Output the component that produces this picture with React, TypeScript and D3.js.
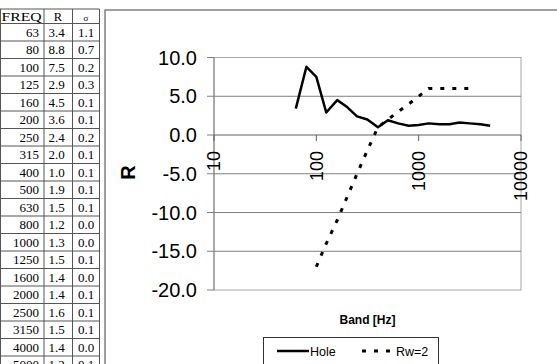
import React from 'react';
import * as d3 from 'd3';

// table / measured data
const freqs = [63, 80, 100, 125, 160, 200, 250, 315, 400, 500, 630, 800, 1000, 1250, 1600, 2000, 2500, 3150, 4000, 5000];
const rValues = [3.4, 8.8, 7.5, 2.9, 4.5, 3.6, 2.4, 2.0, 1.0, 1.9, 1.5, 1.2, 1.3, 1.5, 1.4, 1.4, 1.6, 1.5, 1.4, 1.2];
const sigmaValues = [1.1, 0.7, 0.2, 0.3, 0.1, 0.1, 0.2, 0.1, 0.1, 0.1, 0.1, 0.0, 0.0, 0.1, 0.0, 0.1, 0.1, 0.1, 0.0, 0.1];

// reference curve shifted (Rw=2)
const refFreqs = [100, 125, 160, 200, 250, 315, 400, 500, 630, 800, 1000, 1250, 1600, 2000, 2500, 3150];
const refValues = [-17, -14, -11, -8, -5, -2, 1, 2, 3, 4, 5, 6, 6, 6, 6, 6];

const yTicks = [10, 5, 0, -5, -10, -15, -20];
const xTicks = [10, 100, 1000, 10000];
const gridValues = [5, -5, -10, -15];

const App = () => {
  const x = d3.scaleLog().domain([10, 10000]).range([214, 521]);
  const y = d3.scaleLinear().domain([-20, 10]).range([290, 57.5]);

  const holeLine = d3
    .line<number>()
    .x((_, i) => x(freqs[i]))
    .y((d) => y(d));
  const refLine = d3
    .line<number>()
    .x((_, i) => x(refFreqs[i]))
    .y((d) => y(d));

  // table layout
  const rowTop = 23.5;
  const rowH = 17.5;
  const colX = [0.5, 44, 72.5, 99.5];
  const nRows = freqs.length;
  const tableBottom = rowTop + nRows * rowH;
  const serif = "'Liberation Serif', 'Times New Roman', serif";
  const sans = "'Liberation Sans', Arial, sans-serif";

  return (
    <svg
      width={557}
      height={364}
      style={{ position: 'absolute', left: 0, top: 0, background: '#fff' }}
    >
      {/* table */}
      <g fontFamily={serif} fontSize={13} fill="#000">
        {[9, ...freqs.map((_, i) => rowTop + i * rowH), tableBottom].map((yy, i) => (
          <line key={'h' + i} x1={0} x2={colX[3]} y1={yy} y2={yy} stroke="#555" strokeWidth={1} />
        ))}
        {colX.map((xx, i) => (
          <line key={'v' + i} x1={xx} x2={xx} y1={9} y2={tableBottom} stroke="#555" strokeWidth={1} />
        ))}
        <text x={1.5} y={21} fontSize={12.5} textLength={40} lengthAdjust="spacingAndGlyphs">FREQ</text>
        <text x={58} y={21} fontSize={12.5} textAnchor="middle">R</text>
        <text x={86} y={21} fontSize={9} textAnchor="middle">σ</text>
        {freqs.map((f, i) => (
          <g key={'r' + f}>
            <text x={39} y={rowTop + i * rowH + 13} textAnchor="end">{f}</text>
            <text x={56.5} y={rowTop + i * rowH + 13} textAnchor="middle">{rValues[i].toFixed(1)}</text>
            <text x={86} y={rowTop + i * rowH + 13} textAnchor="middle">{sigmaValues[i].toFixed(1)}</text>
          </g>
        ))}
      </g>

      {/* chart area outline */}
      <path d="M105,364 L105,10 L557,10" fill="none" stroke="#808080" strokeWidth={1.5} />

      {/* plot area */}
      <rect x={214} y={y(10)} width={521 - 214} height={y(-20) - y(10)} fill="none" stroke="#a6a6a6" strokeWidth={1} />
      {gridValues.map((v) => (
        <line key={'g' + v} x1={214} x2={521} y1={y(v)} y2={y(v)} stroke="#808080" strokeWidth={1} />
      ))}
      {/* y axis */}
      <line x1={214} x2={214} y1={y(10)} y2={y(-20)} stroke="#808080" strokeWidth={1} />
      {yTicks.map((t) => (
        <g key={'yt' + t}>
          <line x1={207} x2={214} y1={y(t)} y2={y(t)} stroke="#808080" strokeWidth={1} />
          <text x={197} y={y(t)} dy="0.36em" textAnchor="end" fontFamily={sans} fontSize={20} fill="#000">
            {t.toFixed(1)}
          </text>
        </g>
      ))}
      {/* x axis at 0 */}
      <line x1={214} x2={521} y1={y(0)} y2={y(0)} stroke="#606060" strokeWidth={1} />
      {xTicks.map((t) => (
        <g key={'xt' + t}>
          <line x1={x(t)} x2={x(t)} y1={y(0)} y2={y(0) + 6} stroke="#606060" strokeWidth={1} />
          <text
            transform={`translate(${x(t)},${y(0) + 16}) rotate(-90)`}
            dy="0.36em"
            textAnchor="end"
            fontFamily={sans}
            fontSize={18}
            fill="#000"
          >
            {t}
          </text>
        </g>
      ))}

      {/* series */}
      <path d={refLine(refValues) || ''} fill="none" stroke="#000" strokeWidth={3} strokeDasharray="4,8" />
      <path d={holeLine(rValues) || ''} fill="none" stroke="#000" strokeWidth={2.5} strokeLinejoin="round" />

      {/* axis titles */}
      <text
        transform="translate(127.5,172.5) rotate(-90)"
        dy="0.36em"
        textAnchor="middle"
        fontFamily={sans}
        fontWeight="bold"
        fontSize={20}
      >
        R
      </text>
      <text x={367.5} y={324} textAnchor="middle" fontFamily={sans} fontWeight="bold" fontSize={12}>
        Band [Hz]
      </text>

      {/* legend */}
      <rect x={263.5} y={337.5} width={175} height={40} fill="#fff" stroke="#333" strokeWidth={1} />
      <line x1={277} x2={309} y1={351} y2={351} stroke="#000" strokeWidth={2.5} />
      <text x={310} y={355.5} fontFamily={sans} fontSize={12.5}>Hole</text>
      <line x1={362} x2={395} y1={351} y2={351} stroke="#000" strokeWidth={3} strokeDasharray="4,8" />
      <text x={396} y={355.5} fontFamily={sans} fontSize={12.5}>Rw=2</text>
    </svg>
  );
};

export default App;
